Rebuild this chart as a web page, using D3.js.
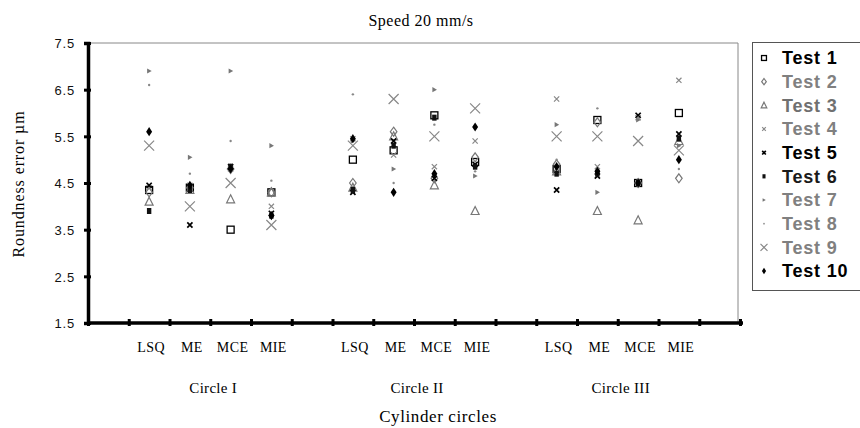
<!DOCTYPE html>
<html>
<head>
<meta charset="utf-8">
<script src="https://cdn.jsdelivr.net/npm/d3@7"></script>
<style>
  body { margin: 0; background: #fff; }
  .serif { font-family: "Liberation Serif", "Times New Roman", serif; fill: #000; }
  .ytick text { font-family: "Liberation Sans", Arial, sans-serif; font-size: 13px; letter-spacing: 0.8px; fill: #111; }
  .legend text { font-family: "Liberation Sans", Arial, sans-serif; font-size: 18px; font-weight: bold; letter-spacing: 0.8px; }
</style>
</head>
<body>
<svg id="chart" width="860" height="428"></svg>
<script>
  'use strict';

  // categories and groups
  var groups = ["Circle I", "Circle II", "Circle III"];
  var methods = ["LSQ", "ME", "MCE", "MIE"];
  var yTicks = [1.5, 2.5, 3.5, 4.5, 5.5, 6.5, 7.5];

  // values per test, in order Circle I (LSQ, ME, MCE, MIE), Circle II (...), Circle III (...)
  var test1  = [4.35, 4.4, 3.5, 4.3,   5.0, 5.2, 5.95, 4.95,  4.8, 5.85, 4.5, 6.0];
  var test2  = [4.3, 4.4, 4.8, 4.3,    4.5, 5.6, 4.6, 5.05,   4.9, 5.8, 4.5, 4.6];
  var test3  = [4.1, 4.35, 4.15, 4.3,  4.4, 5.5, 4.45, 3.9,   4.75, 3.9, 3.7, 5.4];
  var test4  = [4.4, 4.45, 4.8, 4.0,   5.45, 5.1, 4.85, 5.4,  6.3, 4.85, 5.9, 6.7];
  var test5  = [4.45, 3.6, 4.85, 3.85, 4.3, 5.4, 4.6, 4.9,    4.35, 4.65, 5.95, 5.55];
  var test6  = [3.9, 4.35, 4.85, 3.8,  4.35, 5.3, 5.9, 4.85,  4.7, 4.7, 4.5, 5.45];
  var test7  = [6.9, 5.05, 6.9, 5.3,   5.4, 4.8, 6.5, 4.65,   5.75, 4.3, 5.85, 5.3];
  var test8  = [6.6, 4.7, 5.4, 4.55,   6.4, 4.5, 5.75, 4.75,  5.0, 6.1, 5.9, 4.8];
  var test9  = [5.3, 4.0, 4.5, 3.6,    5.3, 6.3, 5.5, 6.1,    5.5, 5.5, 5.4, 5.2];
  var test10 = [5.6, 4.45, 4.8, 3.8,   5.45, 4.3, 4.7, 5.7,   4.85, 4.75, 4.5, 5.0];

  var seriesNames = ["Test 1", "Test 2", "Test 3", "Test 4", "Test 5",
                     "Test 6", "Test 7", "Test 8", "Test 9", "Test 10"];
  var seriesValues = [test1, test2, test3, test4, test5, test6, test7, test8, test9, test10];

  var markerTypes = ["square", "diamond", "triangle", "xsmall", "xbold",
                     "fsquare", "ftri", "dot", "xbig", "fdiamond"];
  var markerColors = ["#000", "#777", "#777", "#888", "#000",
                      "#111", "#777", "#888", "#888", "#000"];
  var legendColors = ["#000", "#808080", "#707070", "#808080", "#000",
                      "#1a1a1a", "#808080", "#808080", "#808080", "#000"];

  // slot keys: a blank slot before each group, plus a trailing blank
  var slots = [];
  groups.forEach(function (g, gi) {
    slots.push("gap" + gi);
    methods.forEach(function (m) { slots.push(g + "|" + m); });
  });
  slots.push("gap" + groups.length);

  var svg = d3.select("#chart");

  var plotLeft = 88, plotRight = 740, plotTop = 43, plotBottom = 323;

  var x = d3.scaleBand().domain(slots).range([plotLeft, plotRight]).padding(0);
  var xEdge = d3.scaleLinear().domain([0, slots.length]).range([plotLeft, plotRight]);
  var y = d3.scaleLinear().domain([1.5, 7.5]).range([plotBottom, plotTop]);

  // frame (top and right)
  svg.append("path")
     .attr("d", "M" + plotLeft + "," + plotTop + "H" + (plotRight - 2) + "V" + plotBottom)
     .attr("fill", "none")
     .attr("stroke", "#888")
     .attr("stroke-width", 1);

  // y axis
  var yAxis = svg.append("g")
     .attr("class", "ytick")
     .attr("transform", "translate(" + plotLeft + ",0)")
     .call(d3.axisLeft(y).tickValues(yTicks).tickFormat(d3.format(".1f"))
            .tickSize(4).tickPadding(9));
  yAxis.select(".domain").attr("stroke", "#000").attr("stroke-width", 3.5);
  yAxis.selectAll(".tick line").attr("x1", 3).attr("stroke", "#000").attr("stroke-width", 3);
  yAxis.selectAll(".tick text").attr("dy", "0.36em");

  // x axis (ticks at the slot edges)
  var xAxis = svg.append("g")
     .attr("transform", "translate(0," + plotBottom + ")")
     .call(d3.axisBottom(xEdge).tickValues(d3.range(slots.length + 1)).tickFormat("")
            .tickSize(3).tickSizeOuter(0));
  xAxis.select(".domain").attr("d", "M" + plotLeft + ",0H" + (plotRight + 3))
       .attr("stroke", "#000").attr("stroke-width", 3.5);
  xAxis.selectAll(".tick line").attr("y1", -4).attr("stroke", "#000").attr("stroke-width", 3);

  // method labels
  var methodSlots = slots.filter(function (s) { return s.indexOf("|") > 0; });
  svg.append("g").selectAll("text")
     .data(methodSlots)
     .join("text")
     .attr("class", "serif")
     .attr("x", function (d) { return x(d) + x.bandwidth() / 2 + 2; })
     .attr("y", 352)
     .attr("text-anchor", "middle")
     .style("font-size", "14px")
     .style("letter-spacing", "0.4px")
     .text(function (d) { return d.split("|")[1]; });

  // group labels
  svg.append("g").selectAll("text")
     .data(groups)
     .join("text")
     .attr("class", "serif")
     .attr("x", function (g) {
       return (x(g + "|" + methods[0]) + x(g + "|" + methods[methods.length - 1]) + x.bandwidth()) / 2 + 3;
     })
     .attr("y", 393)
     .attr("text-anchor", "middle")
     .style("font-size", "15px")
     .style("letter-spacing", "0.3px")
     .text(function (g) { return g; });

  // titles
  svg.append("text").attr("class", "serif")
     .attr("x", 421).attr("y", 26).attr("text-anchor", "middle")
     .style("font-size", "16px").style("letter-spacing", "0.5px")
     .text("Speed 20 mm/s");

  svg.append("text").attr("class", "serif")
     .attr("x", 438).attr("y", 422).attr("text-anchor", "middle")
     .style("font-size", "17px").style("letter-spacing", "0.6px")
     .text("Cylinder circles");

  svg.append("text").attr("class", "serif")
     .attr("transform", "translate(24,184) rotate(-90)")
     .attr("text-anchor", "middle")
     .style("font-size", "16px").style("letter-spacing", "0.9px")
     .text("Roundness error  \u00b5m");

  // markers
  function drawMarker(g, type, color, k) {
    var s;
    switch (type) {
      case "square":
        s = 3.5 * k;
        g.append("rect").attr("x", -s).attr("y", -s).attr("width", 2 * s).attr("height", 2 * s)
         .attr("fill", "none").attr("stroke", color).attr("stroke-width", 1.3);
        break;
      case "diamond":
        g.append("path").attr("d", "M0," + (-4.5 * k) + "L" + (3.3 * k) + ",0L0," + (4.5 * k) + "L" + (-3.3 * k) + ",0Z")
         .attr("fill", "none").attr("stroke", color).attr("stroke-width", 1.2);
        break;
      case "triangle":
        g.append("path").attr("d", "M0," + (-4.5 * k) + "L" + (4 * k) + "," + (3.5 * k) + "L" + (-4 * k) + "," + (3.5 * k) + "Z")
         .attr("fill", "none").attr("stroke", color).attr("stroke-width", 1.2);
        break;
      case "xsmall":
      case "xbold":
      case "xbig":
        s = (type === "xbig" ? 5 : 2.6) * k;
        g.append("path").attr("d", "M" + (-s) + "," + (-s) + "L" + s + "," + s + "M" + s + "," + (-s) + "L" + (-s) + "," + s)
         .attr("fill", "none").attr("stroke", color)
         .attr("stroke-width", type === "xbold" ? 1.7 : 1.2);
        break;
      case "fsquare":
        g.append("rect").attr("x", -2.2 * k).attr("y", -3 * k).attr("width", 4.4 * k).attr("height", 6 * k)
         .attr("fill", color);
        break;
      case "ftri":
        g.append("path").attr("d", "M" + (-2 * k) + "," + (-2.6 * k) + "L" + (2.6 * k) + ",0L" + (-2 * k) + "," + (2.6 * k) + "Z")
         .attr("fill", color);
        break;
      case "dot":
        g.append("circle").attr("r", 1.2 * k).attr("fill", color);
        break;
      case "fdiamond":
        g.append("path").attr("d", "M0," + (-4.6 * k) + "L" + (3 * k) + ",0L0," + (4.6 * k) + "L" + (-3 * k) + ",0Z")
         .attr("fill", color);
        break;
    }
  }

  var plot = svg.append("g");
  seriesValues.forEach(function (vals, si) {
    var pts = vals.map(function (v, i) { return { slot: methodSlots[i], v: v }; });
    plot.append("g").selectAll("g")
        .data(pts)
        .join("g")
        .attr("transform", function (d) {
          return "translate(" + (x(d.slot) + x.bandwidth() / 2) + "," + y(d.v) + ")";
        })
        .each(function () { drawMarker(d3.select(this), markerTypes[si], markerColors[si], 1); });
  });

  // legend
  var legend = svg.append("g").attr("class", "legend");
  legend.append("rect")
        .attr("x", 752.5).attr("y", 42.5).attr("width", 120).attr("height", 248)
        .attr("fill", "#fff").attr("stroke", "#555").attr("stroke-width", 1);

  var ly = d3.scalePoint().domain(seriesNames).range([58, 271]);
  var items = legend.selectAll("g.item")
        .data(seriesNames)
        .join("g")
        .attr("class", "item")
        .attr("transform", function (d) { return "translate(764," + ly(d) + ")"; });
  items.each(function (d, i) {
    drawMarker(d3.select(this), markerTypes[i], markerColors[i], 0.7);
  });
  items.append("text")
       .attr("x", 18).attr("dy", "0.36em")
       .attr("fill", function (d, i) { return legendColors[i]; })
       .text(function (d) { return d; });
</script>
</body>
</html>
